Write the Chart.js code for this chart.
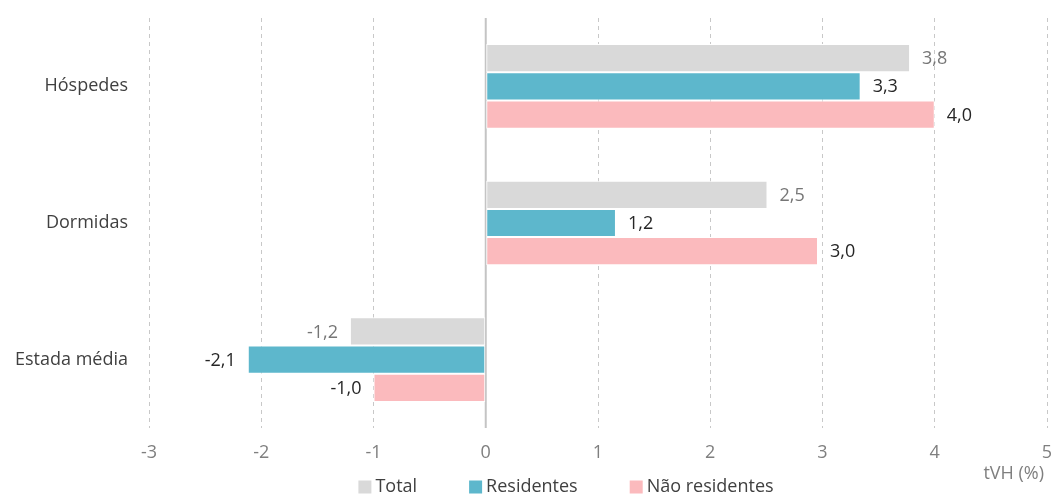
<!DOCTYPE html>
<html>
<head>
<meta charset="utf-8">
<script src="https://cdn.jsdelivr.net/npm/chart.js@4"></script>
<style>
  body { margin: 0; background: #fff; }
  #wrap { width: 1053px; height: 495px; }
</style>
</head>
<body>
<div id="wrap"><canvas id="myChart"></canvas></div>
<script>
// categories and series (tVH %)
let categories = ['Hóspedes', 'Dormidas', 'Estada média']
let totalValues = [3.78, 2.51, -1.21]
let residentesValues = [3.34, 1.16, -2.12]
let naoResidentesValues = [4.0, 2.96, -1.0]
let seriesNames = ['Total', 'Residentes', 'Não residentes']
let seriesColors = ['#d9d9d9', '#5db7cc', '#fbbabd']
let xTicks = [-3, -2, -1, 0, 1, 2, 3, 4, 5]
let axisTitle = 'tVH (%)'

let fontFamily = "'Open Sans', 'Noto Sans', sans-serif"
let fontSize = 18

// value labels next to bar ends, with decimal comma
const valueLabels = {
  id: 'valueLabels',
  afterDatasetsDraw(chart) {
    const ctx = chart.ctx
    ctx.save()
    ctx.font = fontSize + 'px ' + fontFamily
    ctx.textBaseline = 'middle'
    chart.data.datasets.forEach((ds, i) => {
      const meta = chart.getDatasetMeta(i)
      meta.data.forEach((bar, j) => {
        const v = ds.data[j]
        const txt = v.toFixed(1).replace('.', ',')
        ctx.fillStyle = i == 0 ? '#767676' : '#262626'
        if (v >= 0) {
          ctx.textAlign = 'left'
          ctx.fillText(txt, bar.x + 12, bar.y + 1)
        } else {
          ctx.textAlign = 'right'
          ctx.fillText(txt, bar.x - 12, bar.y + 1)
        }
      })
    })
    ctx.restore()
  }
}

// solid zero line
const zeroLine = {
  id: 'zeroLine',
  beforeDatasetsDraw(chart) {
    const x = chart.scales.x.getPixelForValue(0)
    const area = chart.chartArea
    const ctx = chart.ctx
    ctx.save()
    ctx.strokeStyle = '#c4c4c4'
    ctx.lineWidth = 2
    ctx.beginPath()
    ctx.moveTo(x, area.top)
    ctx.lineTo(x, area.bottom)
    ctx.stroke()
    ctx.restore()
  }
}

// axis unit under the last tick + legend at the bottom
const bottomTexts = {
  id: 'bottomTexts',
  afterDraw(chart) {
    const ctx = chart.ctx
    const area = chart.chartArea
    ctx.save()
    ctx.font = fontSize + 'px ' + fontFamily
    ctx.textBaseline = 'middle'

    ctx.fillStyle = '#7f7f7f'
    ctx.textAlign = 'right'
    ctx.fillText(axisTitle, area.right - 3, 474)

    // legend
    const box = 13, gap = 4, spacing = 52
    let widths = seriesNames.map(n => box + gap + ctx.measureText(n).width)
    let total = widths.reduce((a, b) => a + b, 0) + spacing * (seriesNames.length - 1)
    let x = 566 - total / 2
    const y = 487
    ctx.textAlign = 'left'
    seriesNames.forEach((n, i) => {
      ctx.fillStyle = seriesColors[i]
      ctx.fillRect(x, y - box / 2, box, box)
      ctx.fillStyle = '#404040'
      ctx.fillText(n, x + box + gap, y)
      x += widths[i] + spacing
    })
    ctx.restore()
  }
}

const ctx = document.getElementById('myChart')

new Chart(ctx, {
  type: 'bar',
  data: {
    labels: categories,
    datasets: seriesNames.map((n, i) => ({
      label: n,
      data: [totalValues, residentesValues, naoResidentesValues][i],
      backgroundColor: seriesColors[i]
    }))
  },
  options: {
    indexAxis: 'y',
    responsive: true,
    maintainAspectRatio: false,
    animation: false,
    layout: { padding: { top: 18, right: 6, left: 0, bottom: 31 } },
    datasets: {
      bar: {
        categoryPercentage: 0.62,
        barPercentage: 1,
        borderColor: '#ffffff',
        borderWidth: 1,
        borderSkipped: false
      }
    },
    scales: {
      x: {
        min: -3,
        max: 5,
        afterBuildTicks: (scale) => { scale.ticks = xTicks.map(v => ({ value: v })) },
        afterFit: (scale) => {
          scale.height = 36
          scale.paddingLeft = 0
          scale.paddingRight = 0
        },
        grid: { color: '#c8c8c8', lineWidth: 1, drawTicks: false },
        border: { display: false, dash: [4, 4] },
        ticks: {
          color: '#7f7f7f',
          padding: 14,
          font: { family: fontFamily, size: fontSize }
        }
      },
      y: {
        grid: { display: false },
        border: { display: false },
        afterFit: (scale) => {
          scale.width = 149
          scale.paddingTop = 0
          scale.paddingBottom = 0
        },
        ticks: {
          color: '#404040',
          padding: 13,
          font: { family: fontFamily, size: fontSize }
        }
      }
    },
    plugins: {
      legend: { display: false },
      tooltip: { enabled: false }
    }
  },
  plugins: [zeroLine, valueLabels, bottomTexts]
})
</script>
</body>
</html>
